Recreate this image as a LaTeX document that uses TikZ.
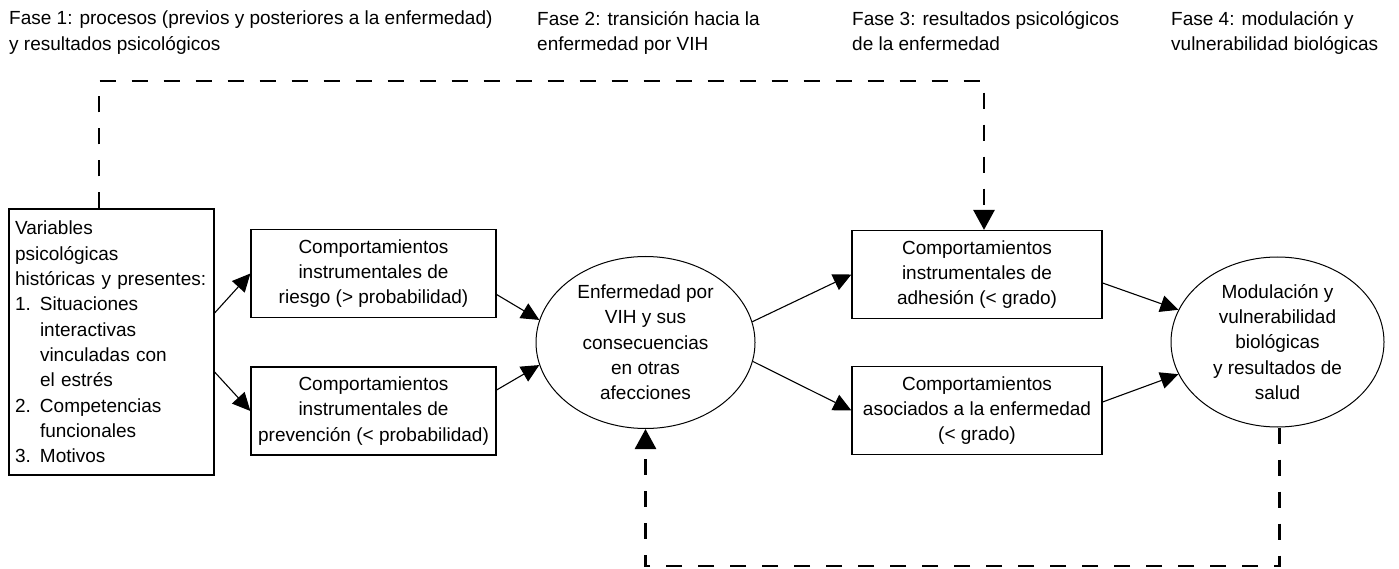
\documentclass[tikz,border=0pt]{standalone}
\usepackage{fontspec}
\setmainfont{Liberation Sans}
\usepackage{tikz}
\usetikzlibrary{arrows.meta,shapes.geometric}

\newcommand{\sangria}{\hspace*{25pt}}
\newcommand{\numero}[1]{\makebox[25pt][l]{#1}}

\begin{document}
\begin{tikzpicture}[x=1pt,y=-1pt,
  every node/.style={font=\fontsize{19pt}{25.3pt}\selectfont},
  fase/.style={anchor=north west,align=left,inner sep=0pt},
  caja/.style={draw,line width=1.2pt,align=center,inner sep=0pt,minimum width=247pt,minimum height=88pt},
  elipse/.style={draw,ellipse,line width=1pt,align=center,inner sep=0pt},
  flecha/.style={line width=1.1pt,-{Triangle[length=18pt,width=17pt]}},
  retro/.style={line width=2.8pt,dash pattern=on 16pt off 16pt,-{Triangle[length=20pt,width=21pt]}}]
\useasboundingbox (0,0) rectangle (1399,569);

% Fases
\node[fase] (fase1) at (9,11) {Fase 1: procesos (previos y posteriores a la enfermedad)\\y resultados psicológicos};
\node[fase] (fase2) at (537,11) {Fase 2: transición hacia la\\enfermedad por VIH};
\node[fase] (fase3) at (852,11) {Fase 3: resultados psicológicos\\de la enfermedad};
\node[fase] (fase4) at (1171,11) {Fase 4: modulación y\\vulnerabilidad biológicas};

% Variables
\node[caja,align=left,text width=193pt,minimum width=205pt,minimum height=266pt] (vars) at (111.5,342) {Variables\\psicológicas\\históricas y presentes:\\
  \numero{1.}Situaciones\\\sangria interactivas\\\sangria vinculadas con\\\sangria el estrés\\
  \numero{2.}Competencias\\\sangria funcionales\\
  \numero{3.}Motivos};

% Comportamientos
\node[caja,minimum width=245pt] (riesgo) at (373.5,273.5) {Comportamientos\\instrumentales de\\riesgo (> probabilidad)};
\node[caja,minimum width=245pt] (prevencion) at (373.5,411) {Comportamientos\\instrumentales de\\prevención (< probabilidad)};
\node[caja,minimum width=250pt] (adhesion) at (977,274.5) {Comportamientos\\instrumentales de\\adhesión (< grado)};
\node[caja,minimum width=250pt] (asociados) at (977,410.5) {Comportamientos\\asociados a la enfermedad\\(< grado)};

% Elipses
\node[elipse,minimum width=219pt,minimum height=172pt] (enfermedad) at (645.5,342.5) {Enfermedad por\\VIH y sus\\consecuencias\\en otras\\afecciones};
\node[elipse,minimum width=213pt,minimum height=170pt] (modulacion) at (1277.5,342) {Modulación y\\vulnerabilidad\\biológicas\\y resultados de\\salud};

% Flechas
\draw[flecha] ([yshift=29pt]vars.east) -- (riesgo.west);
\draw[flecha] ([yshift=-30pt]vars.east) -- (prevencion.west);
\draw[flecha] ([yshift=-21pt]riesgo.east) -- (enfermedad.168);
\draw[flecha] ([yshift=21pt]prevencion.east) -- (enfermedad.192);
\draw[flecha] (enfermedad.11) -- (adhesion.west);
\draw[flecha] (enfermedad.-10) -- (asociados.west);
\draw[flecha] ([yshift=-8.5pt]adhesion.east) -- (modulacion.162);
\draw[flecha] ([yshift=8.5pt]asociados.east) -- (modulacion.198);

% Retroalimentacion
\coordinate (arriba) at (984,81);
\coordinate (abajo) at (645.5,566);
\draw[retro] ([xshift=-12.5pt]vars.north) |- (arriba) -- ([xshift=7pt]adhesion.north);
\draw[retro] ([xshift=2pt]modulacion.south) |- (abajo) -- (enfermedad.south);
\end{tikzpicture}
\end{document}
